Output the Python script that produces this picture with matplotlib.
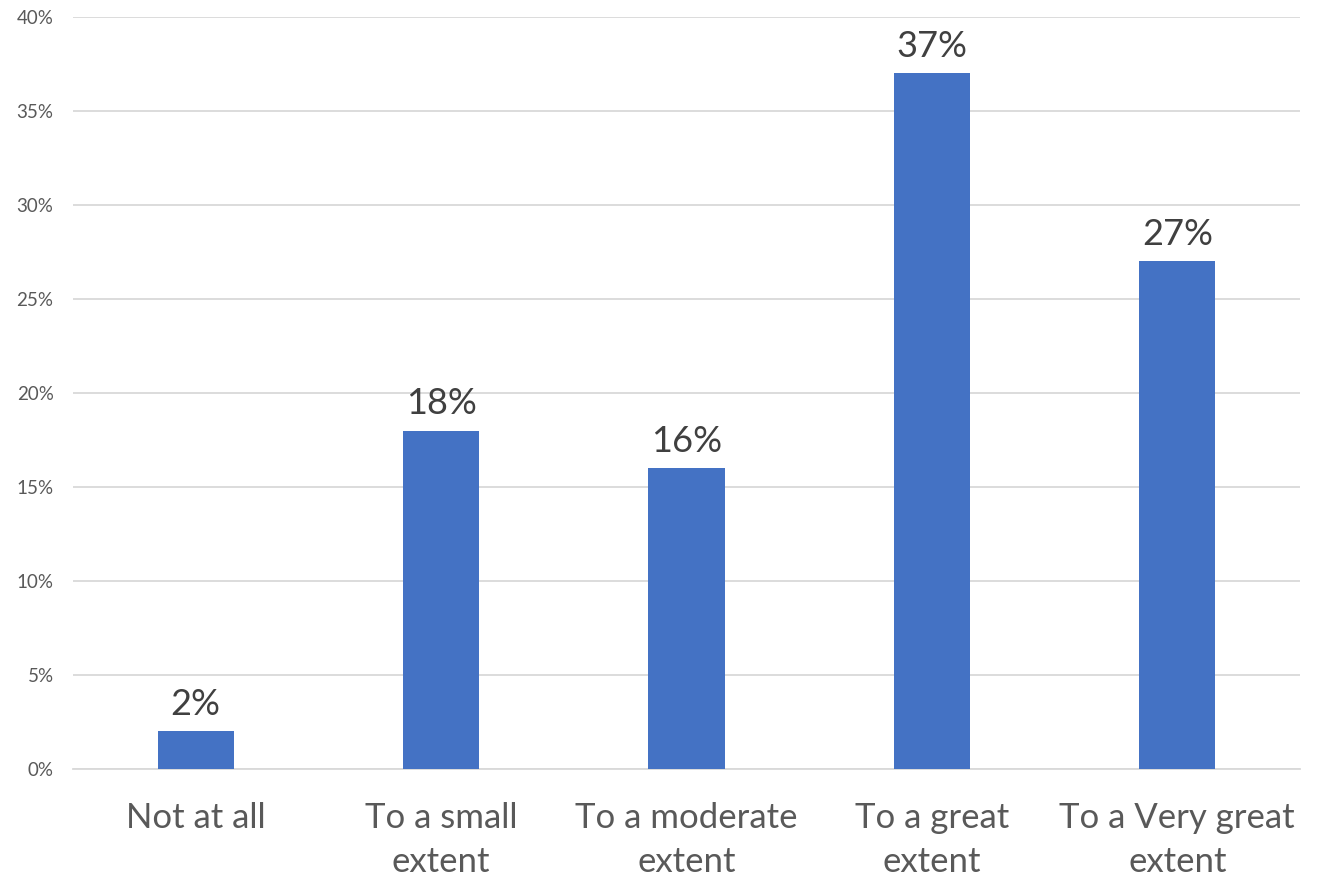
import matplotlib.pyplot as plt
from matplotlib.ticker import FuncFormatter

categories = ['Not at all', 'To a small\nextent', 'To a moderate\nextent',
              'To a great\nextent', 'To a Very great\nextent']
percents = [2, 18, 16, 37, 27]

plt.rcParams['font.family'] = ['Lato', 'DejaVu Sans']

fig = plt.figure(figsize=(13.18, 8.82), dpi=100)
ax = fig.add_axes([73 / 1318, (882 - 769) / 882, (1300 - 73) / 1318, (769 - 17) / 882])

x = range(len(categories))
bars = ax.bar(x, percents, width=0.31, color='#4472C4', zorder=3)

for b, v in zip(bars, percents):
    ax.text(b.get_x() + b.get_width() / 2, v + 0.55, f'{v}%', ha='center', va='bottom',
            fontsize=26, color='#404040')

ax.set_xlim(-0.5, len(categories) - 0.5)
ax.set_ylim(0, 40)
ax.set_yticks(range(0, 41, 5))
ax.yaxis.set_major_formatter(FuncFormatter(lambda v, p: f'{int(v)}%'))
ax.set_xticks(list(x))
ax.set_xticklabels(categories, fontsize=25, color='#595959', linespacing=1.45)
ax.tick_params(axis='y', labelsize=13.5, labelcolor='#595959', length=0, pad=14)
ax.tick_params(axis='x', length=0, pad=24)

ax.grid(axis='y', color='#D9D9D9', linewidth=1.3, zorder=0)
for s in ['top', 'right', 'left']:
    ax.spines[s].set_visible(False)
ax.spines['bottom'].set_color('#D9D9D9')
ax.spines['bottom'].set_linewidth(1.3)

fig.savefig('out.png', dpi=100)
